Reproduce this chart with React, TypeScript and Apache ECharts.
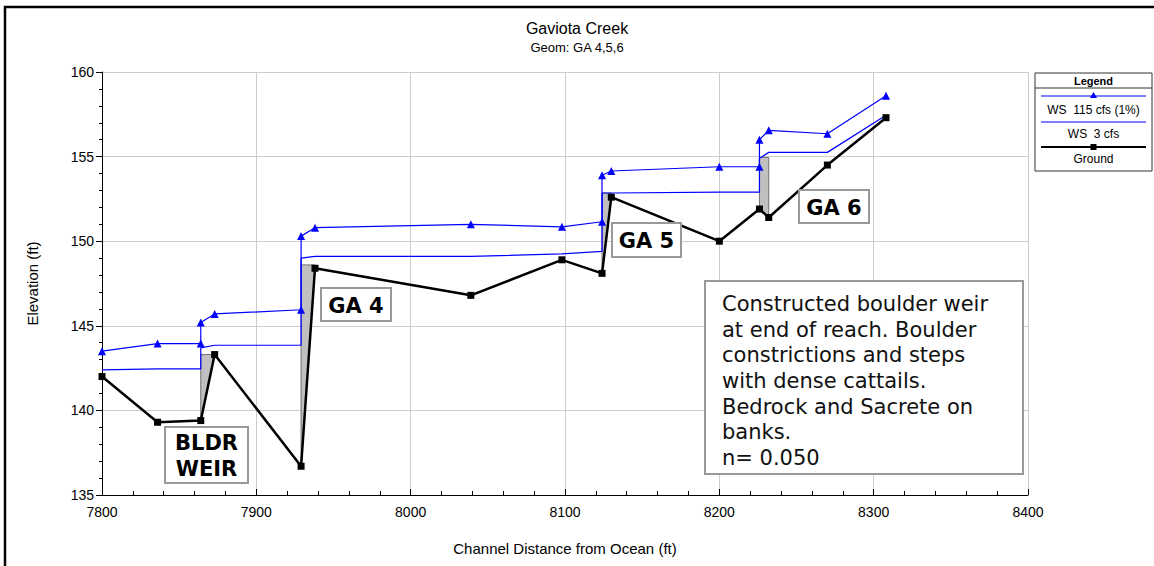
import React, { useEffect, useRef } from 'react';
import * as echarts from 'echarts';

// Ground profile stations (ft) and elevations (ft)
const groundStations = [7800, 7836, 7864, 7873, 7929, 7938, 8039, 8098, 8124, 8130, 8200, 8226, 8232, 8270, 8308];
const groundElev = [142.0, 139.3, 139.4, 143.3, 136.7, 148.4, 146.8, 148.9, 148.1, 152.6, 150.0, 151.9, 151.4, 154.5, 157.3];

// Water-surface profiles (stations repeat at inline structures)
const wsStations = [7800, 7836, 7864, 7864, 7873, 7929, 7929, 7938, 8039, 8098, 8124, 8124, 8130, 8200, 8226, 8226, 8232, 8270, 8308];
const ws115Elev = [143.5, 143.95, 143.95, 145.2, 145.7, 145.95, 150.3, 150.8, 151.0, 150.85, 151.15, 153.9, 154.15, 154.4, 154.4, 156.0, 156.55, 156.35, 158.6];
const ws3Elev = [142.4, 142.45, 142.45, 143.7, 143.85, 143.85, 149.0, 149.1, 149.1, 149.25, 149.4, 152.85, 152.85, 152.9, 152.9, 154.9, 155.25, 155.25, 157.45];

// Inline structures (weirs) drawn as gray blocks
const structStart = [7864, 7929, 8124, 8226];
const structEnd = [7873, 7938, 8130, 8232];
const structTop = [143.3, 148.6, 152.85, 154.95];
const structBotLeft = [139.4, 136.7, 148.1, 151.9];
const structBotRight = [143.3, 148.4, 152.6, 151.4];

const xMin = 7800, xMax = 8400, xInterval = 100;
const yMin = 135, yMax = 160, yInterval = 5;

const titleText = 'Gaviota Creek';
const subTitleText = 'Geom: GA 4,5,6';
const legendLabels = ['WS  115 cfs (1%)', 'WS  3 cfs', 'Ground'];
const noteText = 'Constructed boulder weir\nat end of reach. Boulder\nconstrictions and steps\nwith dense cattails.\nBedrock and Sacrete on\nbanks.\nn= 0.050';

const SANS = "'Liberation Sans', Arial, sans-serif";
const VERD = "'DejaVu Sans', Verdana, sans-serif";
const BLUE = '#0000ff';
const TOP = 100;

function zip(xs: number[], ys: number[]) {
  return xs.map((x, i) => [x, ys[i]]);
}

function labelBox(x: number, y: number, w: number, h: number, text: string, lineHeight = 26) {
  return [
    { type: 'rect', z: TOP, shape: { x, y, width: w, height: h }, style: { fill: '#fff', stroke: '#999', lineWidth: 2 } },
    {
      type: 'text',
      z: TOP + 1,
      x: x + w / 2,
      y: y + h / 2 + 1,
      style: {
        text,
        fill: '#000',
        font: `bold 21px ${VERD}`,
        textAlign: 'center',
        textVerticalAlign: 'middle',
        lineHeight,
      },
    },
  ];
}

export default function App() {
  const ref = useRef<HTMLDivElement>(null);

  useEffect(() => {
    document.body.style.margin = '0';
    const chart = echarts.init(ref.current!, undefined, { renderer: 'svg' });

    const structData = structStart.map((s, i) => [s, structEnd[i], structTop[i], structBotLeft[i], structBotRight[i]]);

    const lx = 1035, ly = 73, lw = 117;
    const cx = lx + lw / 2;
    const txt = (y: number, text: string, font: string) => ({
      type: 'text', z: TOP + 1, x: cx, y,
      style: { text, font, fill: '#000', textAlign: 'center', textVerticalAlign: 'middle' },
    });

    const option: any = {
      animation: false,
      backgroundColor: '#fff',
      title: [
        { text: titleText, left: 'center', top: 15, textStyle: { fontFamily: SANS, fontSize: 16, fontWeight: 'normal', color: '#000' } },
        { text: subTitleText, left: 'center', top: 36, textStyle: { fontFamily: SANS, fontSize: 13, fontWeight: 'normal', color: '#000' } },
      ],
      grid: { left: 102, top: 72, width: 926, height: 423, containLabel: false },
      xAxis: {
        type: 'value',
        min: xMin,
        max: xMax,
        interval: xInterval,
        name: 'Channel Distance from Ocean (ft)',
        nameLocation: 'middle',
        nameGap: 46,
        nameTextStyle: { fontFamily: SANS, fontSize: 15, color: '#000' },
        axisLine: { show: true, onZero: false, lineStyle: { color: '#000', width: 1 } },
        axisTick: { show: true, inside: true, length: 6, lineStyle: { color: '#000' } },
        minorTick: { show: true, splitNumber: 5, length: 4, lineStyle: { color: '#000' } },
        axisLabel: { fontFamily: SANS, fontSize: 14, color: '#000', margin: 10, formatter: (v: number) => String(v) },
        splitLine: { show: true, lineStyle: { color: '#cccccc', width: 1 } },
      },
      yAxis: {
        type: 'value',
        min: yMin,
        max: yMax,
        interval: yInterval,
        name: 'Elevation (ft)',
        nameLocation: 'middle',
        nameGap: 62,
        nameTextStyle: { fontFamily: SANS, fontSize: 15, color: '#000' },
        axisLine: { show: true, onZero: false, lineStyle: { color: '#000', width: 1 } },
        axisTick: { show: true, inside: false, length: 6, lineStyle: { color: '#000' } },
        minorTick: { show: true, splitNumber: 5, length: 3, lineStyle: { color: '#000' } },
        axisLabel: { fontFamily: SANS, fontSize: 14, color: '#000', margin: 8, formatter: (v: number) => String(v) },
        splitLine: { show: true, lineStyle: { color: '#cccccc', width: 1 } },
      },
      series: [
        {
          type: 'custom',
          name: 'Structures',
          z: 1,
          encode: { x: [0, 1], y: [2, 3, 4] },
          data: structData,
          renderItem: (params: any, api: any) => {
            const x1 = api.value(0), x2 = api.value(1), top = api.value(2), bl = api.value(3), br = api.value(4);
            const pts = [api.coord([x1, bl]), api.coord([x1, top]), api.coord([x2, top]), api.coord([x2, br])];
            return { type: 'polygon', shape: { points: pts }, style: { fill: '#c0c0c0', stroke: '#707070', lineWidth: 1 } };
          },
        },
        {
          type: 'line',
          name: 'WS 3 cfs',
          z: 3,
          data: zip(wsStations, ws3Elev),
          showSymbol: false,
          symbol: 'none',
          lineStyle: { color: BLUE, width: 1.2 },
        },
        {
          type: 'line',
          name: 'WS 115 cfs (1%)',
          z: 4,
          data: zip(wsStations, ws115Elev),
          symbol: 'triangle',
          symbolSize: 8,
          itemStyle: { color: BLUE },
          lineStyle: { color: BLUE, width: 1.2 },
        },
        {
          type: 'line',
          name: 'Ground',
          z: 5,
          data: zip(groundStations, groundElev),
          symbol: 'rect',
          symbolSize: 7,
          itemStyle: { color: '#000' },
          lineStyle: { color: '#000', width: 2.5 },
        },
      ],
      graphic: [
        // outer frame
        { type: 'rect', silent: true, z: TOP, shape: { x: 5, y: 7, width: 1170, height: 580 }, style: { fill: 'none', stroke: '#000', lineWidth: 2.5 } },
        // legend
        { type: 'rect', z: TOP, shape: { x: lx, y: ly, width: lw, height: 98 }, style: { fill: '#fff', stroke: '#333', lineWidth: 1 } },
        { type: 'line', z: TOP + 1, shape: { x1: lx, y1: 88, x2: lx + lw, y2: 88 }, style: { stroke: '#333', lineWidth: 1 } },
        txt(80.5, 'Legend', `bold 11px ${SANS}`),
        { type: 'line', z: TOP + 1, shape: { x1: lx + 6, y1: 96, x2: lx + lw - 6, y2: 96 }, style: { stroke: BLUE, lineWidth: 1.2 } },
        { type: 'polygon', z: TOP + 1, shape: { points: [[cx, 92], [cx - 3.5, 98], [cx + 3.5, 98]] }, style: { fill: BLUE } },
        txt(110, legendLabels[0], `12px ${SANS}`),
        { type: 'line', z: TOP + 1, shape: { x1: lx + 6, y1: 122, x2: lx + lw - 6, y2: 122 }, style: { stroke: BLUE, lineWidth: 1.2 } },
        txt(134, legendLabels[1], `12px ${SANS}`),
        { type: 'line', z: TOP + 1, shape: { x1: lx + 6, y1: 147, x2: lx + lw - 6, y2: 147 }, style: { stroke: '#000', lineWidth: 2 } },
        { type: 'rect', z: TOP + 1, shape: { x: cx - 3, y: 144, width: 6, height: 6 }, style: { fill: '#000' } },
        txt(159, legendLabels[2], `12px ${SANS}`),
        // annotation boxes
        ...labelBox(165, 427, 83, 56, 'BLDR\nWEIR', 26),
        ...labelBox(321, 288, 70, 33, 'GA 4'),
        ...labelBox(612, 223, 69, 34, 'GA 5'),
        ...labelBox(799, 190, 70, 33, 'GA 6'),
        { type: 'rect', z: TOP, shape: { x: 705, y: 281, width: 318, height: 193 }, style: { fill: '#fff', stroke: '#999', lineWidth: 2 } },
        {
          type: 'text',
          z: TOP + 1,
          x: 722,
          y: 291,
          style: { text: noteText, font: `21px ${VERD}`, fill: '#111', textAlign: 'left', textVerticalAlign: 'top', lineHeight: 25.7 },
        },
      ],
    };

    chart.setOption(option);
    return () => chart.dispose();
  }, []);

  return <div ref={ref} style={{ width: 1154, height: 566 }} />;
}
